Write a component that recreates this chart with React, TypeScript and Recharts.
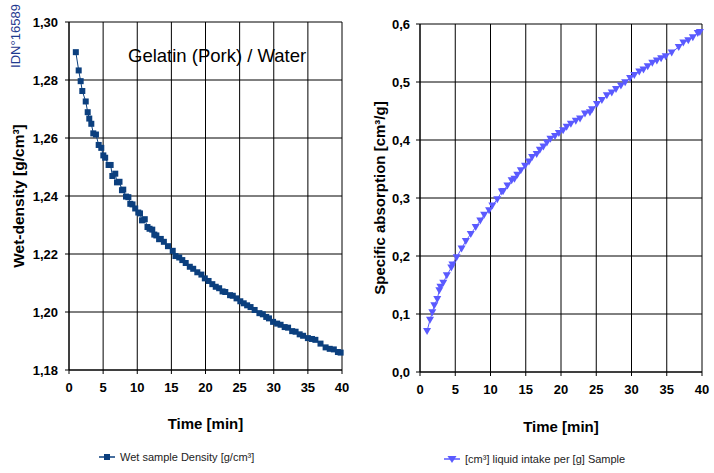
import { CartesianGrid, Legend, Line, LineChart, XAxis, YAxis } from "recharts";

const timeTicks = [0, 5, 10, 15, 20, 25, 30, 35, 40];
const densityTicks = [1.18, 1.2, 1.22, 1.24, 1.26, 1.28, 1.3];
const absorptionTicks = [0, 0.1, 0.2, 0.3, 0.4, 0.5, 0.6];

const densityTime = [
  1.0, 1.42, 1.71, 1.95, 2.45, 2.74, 2.97, 3.27, 3.56, 3.95, 4.35, 4.73, 5.03, 5.3, 5.8, 6.1, 6.35, 6.78,
  7.03, 7.4, 7.76, 7.95, 8.35, 8.7, 8.98, 9.3, 9.7, 10.15, 10.4, 10.7, 11.1, 11.5, 11.8, 12.2, 12.5, 12.8,
  13.2, 13.45, 13.9, 14.5, 15.2, 15.6, 16.15, 16.6, 17.1, 17.7, 18.2, 18.8, 19.4, 19.9, 20.45, 21.0, 21.5,
  22.0, 22.5, 22.9, 23.6, 24.0, 24.55, 25.1, 25.6, 26.1, 26.6, 27.2, 27.9, 28.4, 28.9, 29.3, 29.9, 30.5,
  31.0, 31.6, 32.1, 32.7, 33.2, 33.8, 34.3, 35.0, 35.6, 36.1, 36.85, 37.6, 38.2, 38.8, 39.4, 39.8
];
const wetDensity = [
  1.2896, 1.2833, 1.2796, 1.2762, 1.2726, 1.2689, 1.2667, 1.2649, 1.2616, 1.2612, 1.2576, 1.2566, 1.254,
  1.2532, 1.2507, 1.2507, 1.2469, 1.2477, 1.2447, 1.2449, 1.242, 1.2422, 1.2398, 1.2396, 1.2373, 1.2371,
  1.2357, 1.2343, 1.234, 1.2316, 1.232, 1.2293, 1.2287, 1.2284, 1.2267, 1.2264, 1.2251, 1.2252, 1.2242,
  1.2227, 1.2211, 1.2193, 1.2188, 1.2179, 1.2169, 1.2156, 1.2149, 1.2137, 1.2129, 1.2116, 1.2107, 1.2096,
  1.2087, 1.2082, 1.2071, 1.2069, 1.2058, 1.2056, 1.2047, 1.2037, 1.203, 1.2023, 1.2017, 1.2007, 1.1996,
  1.1992, 1.1983, 1.1978, 1.1966, 1.196, 1.1956, 1.1948, 1.1946, 1.1934, 1.1932, 1.1923, 1.1918, 1.191,
  1.1907, 1.1904, 1.1891, 1.1878, 1.1873, 1.1871, 1.1862, 1.186
];

const absorptionTime = [
  1.0, 1.42, 1.75, 2.03, 2.45, 2.74, 2.9, 3.3, 3.8, 4.44, 4.6, 5.2, 5.9, 6.5, 7.2, 7.9, 8.55, 9.1, 9.8,
  10.26, 10.96, 11.6, 11.8, 12.4, 13.0, 13.4, 13.8, 14.3, 14.9, 15.46, 15.9, 16.55, 17.0, 17.5, 18.0, 18.5,
  19.15, 19.7, 20.3, 20.8, 21.4, 22.1, 22.7, 23.4, 24.1, 24.4, 25.1, 25.8, 26.5, 27.2, 27.8, 28.5, 29.1,
  29.8, 30.4, 31.1, 31.7, 32.3, 32.95, 33.6, 34.2, 34.85, 35.7, 36.7, 37.35, 38.05, 38.7, 39.4, 39.7
];
const liquidIntake = [
  0.0705, 0.09, 0.103, 0.115, 0.126, 0.141, 0.147, 0.154, 0.1667, 0.18, 0.1855, 0.198, 0.213, 0.226, 0.238,
  0.25, 0.261, 0.271, 0.279, 0.287, 0.298, 0.311, 0.312, 0.3217, 0.3305, 0.333, 0.34, 0.348, 0.3555, 0.363,
  0.3705, 0.376, 0.383, 0.389, 0.3955, 0.402, 0.4067, 0.412, 0.4167, 0.423, 0.428, 0.4333, 0.437, 0.4455,
  0.448, 0.453, 0.462, 0.469, 0.477, 0.4817, 0.488, 0.494, 0.4995, 0.5067, 0.512, 0.518, 0.5217, 0.527,
  0.533, 0.5372, 0.541, 0.5445, 0.551, 0.5605, 0.568, 0.572, 0.5772, 0.5845, 0.586
];

const densityData = densityTime.map((t, i) => ({ t, v: wetDensity[i] }));
const absorptionData = absorptionTime.map((t, i) => ({ t, v: liquidIntake[i] }));

const FONT = "'Liberation Sans', Arial, sans-serif";
const NAVY = "#0B3F7E";
const VIOLET = "#5A5AFF";

const tickStyle = { fontSize: 13, fontWeight: 700, fill: "#000", fontFamily: FONT };
const axisTitle = { fontSize: 15, fontWeight: 700, fill: "#000", fontFamily: FONT };

function SquareDot(props: any) {
  const { cx, cy, index } = props;
  if (cx == null || cy == null) return null;
  return <rect key={`s${index}`} x={cx - 3} y={cy - 3} width={6} height={6} fill={NAVY} />;
}

function TriangleDot(props: any) {
  const { cx, cy, index } = props;
  if (cx == null || cy == null) return null;
  return (
    <path key={`t${index}`} d={`M${cx - 4},${cy - 3} L${cx + 4},${cy - 3} L${cx},${cy + 4} Z`} fill={VIOLET} />
  );
}

function LegendItem({ label, color, square }: { label: string; color: string; square: boolean }) {
  return (
    <div style={{ display: "flex", alignItems: "center", fontFamily: FONT, fontSize: 11, color: "#222" }}>
      <svg width={18} height={10} style={{ marginRight: 3 }}>
        <line x1={0} y1={5} x2={16} y2={5} stroke={color} strokeWidth={1.5} />
        {square ? (
          <rect x={5} y={2} width={6} height={6} fill={color} />
        ) : (
          <path d="M3.5,2 L12.5,2 L8,9 Z" fill={color} />
        )}
      </svg>
      <span>{label}</span>
    </div>
  );
}

export default function App() {
  return (
    <div style={{ position: "relative", width: 714, height: 473, background: "#fff", overflow: "hidden" }}>
      <style>{`body{margin:0;}`}</style>

      <div style={{ position: "absolute", left: 0, top: 0 }}>
        <LineChart width={360} height={473} data={densityData} margin={{ top: 22, right: 18, bottom: 61, left: 0 }}>
          <CartesianGrid stroke="#000" strokeWidth={1} />
          <XAxis
            dataKey="t"
            type="number"
            domain={[0, 40]}
            ticks={timeTicks}
            interval={0}
            height={30}
            stroke="#000"
            tickSize={4}
            tickMargin={9}
            tick={tickStyle}
            label={{ value: "Time [min]", position: "bottom", offset: 18, style: axisTitle }}
          />
          <YAxis
            type="number"
            domain={[1.18, 1.3]}
            ticks={densityTicks}
            interval={0}
            width={69}
            stroke="#000"
            tickSize={4}
            tickMargin={7}
            tick={tickStyle}
            tickFormatter={(v: number) => v.toFixed(2).replace(".", ",")}
            label={{
              value: "Wet-density [g/cm³]",
              angle: -90,
              position: "insideLeft",
              offset: 18,
              style: { ...axisTitle, fontSize: 15.5, textAnchor: "middle" }
            }}
          />
          <Legend
            wrapperStyle={{ position: "absolute", left: 99, top: 451, width: "auto" }}
            content={() => <LegendItem label="Wet sample Density [g/cm³]" color={NAVY} square />}
          />
          <Line
            dataKey="v"
            name="Wet sample Density [g/cm³]"
            type="linear"
            stroke={NAVY}
            strokeWidth={1}
            dot={SquareDot}
            activeDot={false}
            isAnimationActive={false}
          />
        </LineChart>
      </div>

      <div style={{ position: "absolute", left: 360, top: 0 }}>
        <LineChart width={354} height={473} data={absorptionData} margin={{ top: 24, right: 12, bottom: 59, left: 0 }}>
          <CartesianGrid stroke="#000" strokeWidth={1} />
          <XAxis
            dataKey="t"
            type="number"
            domain={[0, 40]}
            ticks={timeTicks}
            interval={0}
            height={30}
            stroke="#000"
            tickSize={4}
            tickMargin={9}
            tick={tickStyle}
            label={{ value: "Time [min]", position: "bottom", offset: 19, style: axisTitle }}
          />
          <YAxis
            type="number"
            domain={[0, 0.6]}
            ticks={absorptionTicks}
            interval={0}
            width={60}
            stroke="#000"
            tickSize={4}
            tickMargin={6}
            tick={tickStyle}
            tickFormatter={(v: number) => v.toFixed(1).replace(".", ",")}
            label={{
              value: "Specific absorption [cm³/g]",
              angle: -90,
              position: "insideLeft",
              offset: 20,
              style: { ...axisTitle, textAnchor: "middle" }
            }}
          />
          <Legend
            wrapperStyle={{ position: "absolute", left: 84, top: 453, width: "auto" }}
            content={() => <LegendItem label="[cm³] liquid intake per [g] Sample" color={VIOLET} square={false} />}
          />
          <Line
            dataKey="v"
            name="[cm³] liquid intake per [g] Sample"
            type="linear"
            stroke={VIOLET}
            strokeWidth={1}
            dot={TriangleDot}
            activeDot={false}
            isAnimationActive={false}
          />
        </LineChart>
      </div>

      <div
        style={{
          position: "absolute",
          left: 128,
          top: 45,
          fontFamily: FONT,
          fontSize: 18.5,
          color: "#000",
          whiteSpace: "nowrap",
          lineHeight: "22px"
        }}
      >
        Gelatin (Pork) / Water
      </div>

      <svg width={30} height={80} style={{ position: "absolute", left: 0, top: 0 }}>
        <text
          x={15}
          y={36}
          transform="rotate(-90 15 36)"
          textAnchor="middle"
          dominantBaseline="central"
          fontFamily={FONT}
          fontSize={13}
          fill="#1F3A8F"
        >
          IDN°16589
        </text>
      </svg>
    </div>
  );
}
